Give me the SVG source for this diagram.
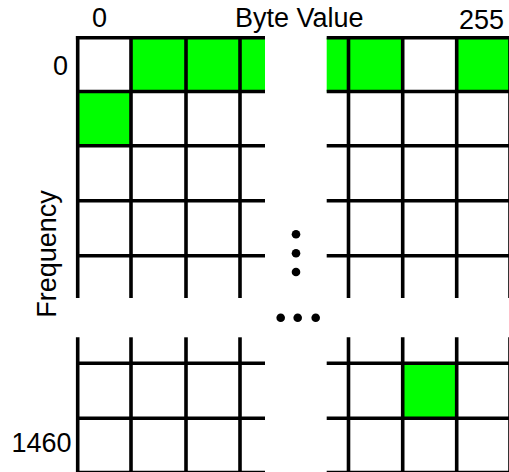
<svg xmlns="http://www.w3.org/2000/svg" width="509" height="472" viewBox="0 0 509 472">
  <style>
    .cell { fill: #00ff00; stroke: none; }
    .grid line { stroke: #000; stroke-width: 3.6; }
    .lbl { font-family: "Liberation Sans", Arial, sans-serif; font-size: 27px; fill: #000; }
  </style>
  <rect x="0" y="0" width="509" height="472" fill="#fff"/>

  <!-- highlighted cells -->
  <g id="cells">
    <rect class="cell" x="131" y="37.7" width="134" height="53.8"/>
    <rect class="cell" x="77.7" y="91.5" width="53.3" height="54.2"/>
    <rect class="cell" x="326.7" y="37.7" width="76" height="53.8"/>
    <rect class="cell" x="456.7" y="37.7" width="55" height="53.8"/>
    <rect class="cell" x="402.7" y="363.3" width="54" height="55"/>
  </g>

  <!-- upper block of the grid -->
  <g id="grid-top" class="grid">
    <line x1="77.7" y1="35.9" x2="77.7" y2="298"/>
    <line x1="131" y1="35.9" x2="131" y2="298"/>
    <line x1="186" y1="35.9" x2="186" y2="298"/>
    <line x1="240" y1="35.9" x2="240" y2="298"/>
    <line x1="348.5" y1="35.9" x2="348.5" y2="298"/>
    <line x1="402.7" y1="35.9" x2="402.7" y2="298"/>
    <line x1="456.7" y1="35.9" x2="456.7" y2="298"/>
    <line x1="510" y1="35.9" x2="510" y2="298"/>
    <line x1="75.9" y1="37.7" x2="265" y2="37.7"/>
    <line x1="76" y1="91.5" x2="265" y2="91.5"/>
    <line x1="76" y1="145.7" x2="265" y2="145.7"/>
    <line x1="76" y1="200.7" x2="265" y2="200.7"/>
    <line x1="76" y1="255.7" x2="265" y2="255.7"/>
    <line x1="326.7" y1="37.7" x2="512" y2="37.7"/>
    <line x1="326.7" y1="91.5" x2="512" y2="91.5"/>
    <line x1="326.7" y1="145.7" x2="512" y2="145.7"/>
    <line x1="326.7" y1="200.7" x2="512" y2="200.7"/>
    <line x1="326.7" y1="255.7" x2="512" y2="255.7"/>
  </g>

  <!-- lower block of the grid -->
  <g id="grid-bottom" class="grid">
    <line x1="77.7" y1="337.3" x2="77.7" y2="474"/>
    <line x1="131" y1="337.3" x2="131" y2="474"/>
    <line x1="186" y1="337.3" x2="186" y2="474"/>
    <line x1="240" y1="337.3" x2="240" y2="474"/>
    <line x1="348.5" y1="337.3" x2="348.5" y2="474"/>
    <line x1="402.7" y1="337.3" x2="402.7" y2="474"/>
    <line x1="456.7" y1="337.3" x2="456.7" y2="474"/>
    <line x1="510" y1="337.3" x2="510" y2="474"/>
    <line x1="76" y1="363.3" x2="265" y2="363.3"/>
    <line x1="76" y1="418.3" x2="265" y2="418.3"/>
    <line x1="76" y1="472.5" x2="265" y2="472.5"/>
    <line x1="326.7" y1="363.3" x2="512" y2="363.3"/>
    <line x1="326.7" y1="418.3" x2="512" y2="418.3"/>
    <line x1="326.7" y1="472.5" x2="512" y2="472.5"/>
  </g>

  <!-- ellipsis dots -->
  <g id="ellipsis" fill="#000">
    <circle cx="296" cy="234.3" r="4.3"/>
    <circle cx="296" cy="253.3" r="4.3"/>
    <circle cx="296" cy="272" r="4.3"/>
    <circle cx="280.7" cy="317.7" r="4.3"/>
    <circle cx="297.7" cy="317.7" r="4.3"/>
    <circle cx="315.7" cy="317.7" r="4.3"/>
  </g>

  <!-- axis labels -->
  <g id="labels">
    <text class="lbl" x="99.5" y="26.5" text-anchor="middle">0</text>
    <text class="lbl" x="235" y="26.5">Byte Value</text>
    <text class="lbl" x="504" y="29" text-anchor="end">255</text>
    <text class="lbl" x="60.5" y="75" text-anchor="middle">0</text>
    <text class="lbl" x="71.5" y="451.5" text-anchor="end">1460</text>
    <text class="lbl" transform="translate(55.5 254) rotate(-90)" text-anchor="middle">Frequency</text>
  </g>
</svg>
